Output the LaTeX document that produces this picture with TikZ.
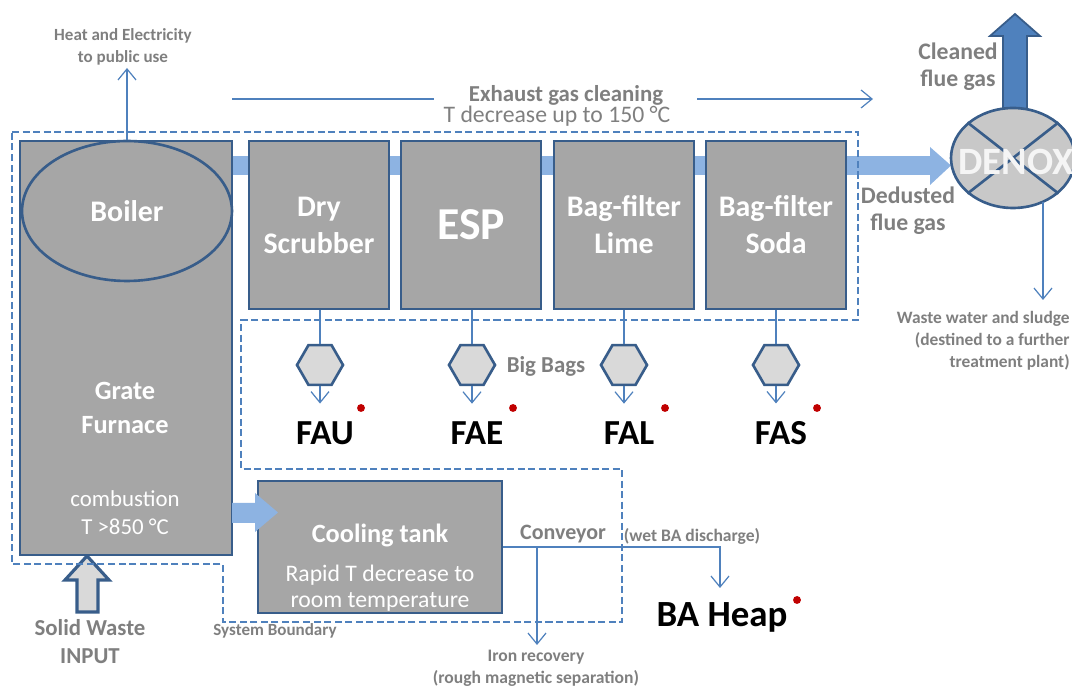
\documentclass[tikz,border=0pt]{standalone}
\usepackage{fontspec}
\setmainfont{Carlito}
\usepackage{tikz}
\usetikzlibrary{arrows.meta,shapes.geometric}

\definecolor{boxgray}{HTML}{A6A6A6}
\definecolor{boxblue}{HTML}{385D8A}
\definecolor{lineblue}{HTML}{4F81BD}
\definecolor{bandblue}{HTML}{8DB3E2}
\definecolor{txtgray}{HTML}{7F7F7F}
\definecolor{baggray}{HTML}{D9D9D9}
\definecolor{denoxgray}{HTML}{C8C8C8}
\definecolor{dotred}{HTML}{C00000}

\newcommand{\fsz}[2]{\fontsize{#1}{#2}\selectfont}

\begin{document}
\begin{tikzpicture}[x=0.02cm,y=-0.02cm,
  unit/.style={draw=boxblue,line width=1.5pt,fill=boxgray,inner sep=0pt,
    minimum width=2.8cm,minimum height=3.36cm,text=white,align=center,
    font=\fsz{17}{21}\bfseries},
  bigbag/.style={regular polygon,regular polygon sides=6,draw=boxblue,
    line width=1.5pt,fill=baggray,minimum size=0.92cm,inner sep=0pt},
  wire/.style={lineblue,line width=0.7pt},
  flow/.style={wire,-{Straight Barb[length=2.2mm,width=3.6mm]}},
  note/.style={text=txtgray,align=center,inner sep=0pt},
  ash/.style={font=\fsz{20}{24}\bfseries,inner sep=0pt},
  reddot/.style={circle,fill=dotred,inner sep=0pt,minimum size=4.5pt}]
  \useasboundingbox (0,0) rectangle (1072,688);

  % gas band and big arrows
  \fill[bandblue] (232,156) rectangle (932,175);
  \fill[bandblue] (930,147) -- (951,165.5) -- (930,185) -- cycle;
  \draw[boxblue,line width=1pt,fill=lineblue] (1003,125) -- (1003,36) -- (990,36)
    -- (1015,14) -- (1040,36) -- (1027,36) -- (1027,125) -- cycle;
  \draw[boxblue,line width=1.8pt,fill=baggray] (77,612) -- (77,580) -- (65,580)
    -- (87,556) -- (109,580) -- (98,580) -- (98,612) -- cycle;

  % system boundary
  \draw[lineblue,line width=1pt,dash pattern=on 4pt off 2pt]
    (12,132) -- (858,132) -- (858,320) -- (241,320) -- (241,469) -- (622,469)
    -- (622,622) -- (223,622) -- (223,564) -- (12,564) -- cycle;

  % furnace and boiler
  \node[unit,minimum width=4.24cm,minimum height=8.28cm] (furnace) at (126,348) {};
  \node[ellipse,draw=boxblue,line width=1.5pt,minimum width=4.2cm,minimum height=2.8cm,
    inner sep=0pt,text=white,font=\fsz{17}{21}\bfseries] (boiler) at (127,211) {Boiler};
  \node[text=white,align=center,font=\fsz{15}{19}\bfseries] (grate) at (125,408) {Grate\\Furnace};
  \node[text=white,align=center,font=\fsz{13}{16}] (comb) at (125,513) {combustion\\T >850 °C};

  % exhaust gas cleaning units
  \node[unit] (dry) at (319,225) {Dry\\Scrubber};
  \node[unit,font=\fsz{26}{30}\bfseries] (esp) at (471,225) {ESP};
  \node[unit] (lime) at (624,225) {Bag-filter\\Lime};
  \node[unit] (soda) at (776,225) {Bag-filter\\Soda};

  % denox
  \node[ellipse,draw=boxblue,line width=1.5pt,fill=denoxgray,minimum width=2.48cm,
    minimum height=2cm,inner sep=0pt] (denox) at (1013,158) {};
  \draw[boxblue,line width=1.5pt] (denox.38) -- (denox.218) (denox.142) -- (denox.-38);
  \node[text=white!92!gray,font=\fsz{22}{26}\bfseries] (denoxText) at (1016,162) {DENOX};

  % big bags
  \node[bigbag] (bagU) at (320,365) {};
  \node[bigbag] (bagE) at (472,365) {};
  \node[bigbag] (bagL) at (624,365) {};
  \node[bigbag] (bagS) at (776,365) {};
  \node[note,font=\fsz{13}{15}\bfseries] (bigbags) at (546,366) {Big Bags};

  \node[ash] (fau) at (325,433) {FAU};
  \node[ash] (fae) at (477,433) {FAE};
  \node[ash] (fal) at (629,433) {FAL};
  \node[ash] (fas) at (781,433) {FAS};
  \node[reddot] (dotU) at (361,408) {};
  \node[reddot] (dotE) at (513,408) {};
  \node[reddot] (dotL) at (665,408) {};
  \node[reddot] (dotS) at (817,408) {};

  \draw[wire] (dry.south -| bagU) -- (bagU.north);
  \draw[wire] (esp.south -| bagE) -- (bagE.north);
  \draw[wire] (lime.south -| bagL) -- (bagL.north);
  \draw[wire] (soda.south -| bagS) -- (bagS.north);
  \draw[flow,shorten >=10pt] (bagU.south) -- (bagU.south |- fau.north);
  \draw[flow,shorten >=10pt] (bagE.south) -- (bagE.south |- fae.north);
  \draw[flow,shorten >=10pt] (bagL.south) -- (bagL.south |- fal.north);
  \draw[flow,shorten >=10pt] (bagS.south) -- (bagS.south |- fas.north);

  % cooling tank and bottom ash
  \node[unit,minimum width=4.88cm,minimum height=2.64cm] (cool) at (380,547) {};
  \fill[bandblue] (232,503) -- (255,503) -- (255,493) -- (278,512.5)
    -- (255,532) -- (255,523) -- (232,523) -- cycle;
  \node[text=white,font=\fsz{15}{18}\bfseries] (coolTitle) at (380,535) {Cooling tank};
  \node[text=white,align=center,font=\fsz{13.5}{14.5}] (coolSub) at (380,588)
    {Rapid T decrease to\\room temperature};

  \node[note,font=\fsz{12.5}{15}\bfseries] (conv) at (563,534) {Conveyor};
  \node[note,font=\fsz{10}{12}\bfseries] (wetBA) at (692,536) {(wet BA discharge)};
  \node[note,font=\fsz{10}{12.5}\bfseries] (iron) at (536,668)
    {Iron recovery\\(rough magnetic separation)};
  \node[font=\fsz{21}{25}\bfseries,inner sep=0pt] (heap) at (722,617) {BA Heap};
  \node[reddot] (dotH) at (797,600) {};
  \coordinate (heapEnd) at (720,588);
  \coordinate (ironEnd) at (537,645);
  \draw[flow] (cool.east) -| (heapEnd);
  \draw[flow] (cool.east -| ironEnd) -- (ironEnd);

  % other labels
  \node[note,font=\fsz{9.7}{12.5}\bfseries] (heat) at (123,47) {Heat and Electricity\\to public use};
  \coordinate (heatEnd) at (127,68);
  \draw[flow] (boiler.north) -- (heatEnd);

  \node[note,font=\fsz{13}{15}\bfseries] (exhTitle) at (566,95) {Exhaust gas cleaning};
  \node[note,font=\fsz{13.5}{15}] (exhSub) at (557,116) {T decrease up to 150 °C};
  \coordinate (exA) at (232,99);
  \coordinate (exB) at (434,99);
  \coordinate (exC) at (697,99);
  \coordinate (exD) at (873,99);
  \draw[wire] (exA) -- (exB);
  \draw[flow] (exC) -- (exD);

  \node[note,font=\fsz{13.5}{15.5}\bfseries] (cleaned) at (958,67) {Cleaned\\flue gas};
  \node[note,font=\fsz{13.5}{15.5}\bfseries] (dedusted) at (908,211) {Dedusted\\flue gas};

  \coordinate (wwEnd) at (1043,300);
  \draw[flow] (wwEnd |- denox.-54) -- (wwEnd);
  \node[note,anchor=north east,align=right,font=\fsz{9.9}{12.5}\bfseries] (waste) at (1070,311)
    {Waste water and sludge\\(destined to a further\\treatment plant)};

  \node[note,font=\fsz{13}{16}\bfseries] (input) at (90,642) {Solid Waste\\INPUT};
  \node[note,font=\fsz{9.7}{11}\bfseries] (sysb) at (275,631) {System Boundary};
\end{tikzpicture}
\end{document}
